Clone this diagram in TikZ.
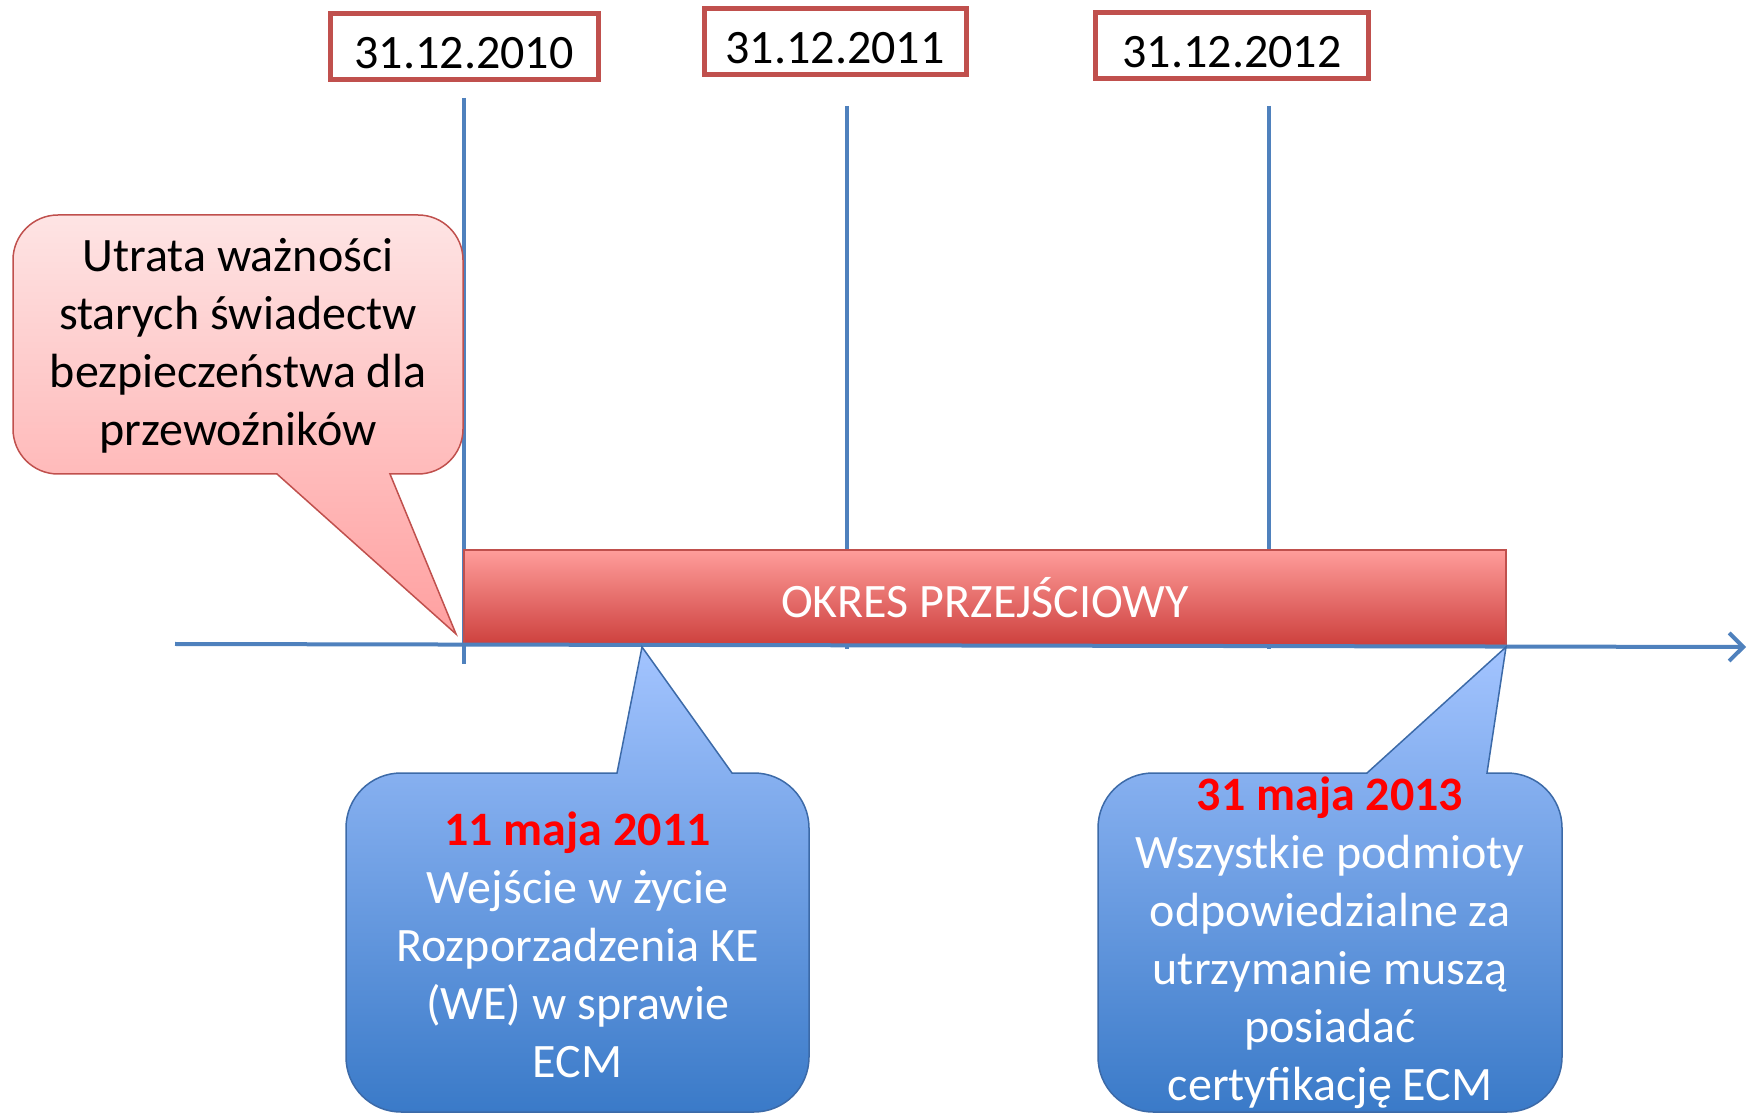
\documentclass[tikz,border=0pt]{standalone}
\usepackage{fontspec}
\setmainfont{Carlito}
\usetikzlibrary{arrows.meta}

\definecolor{lineblue}{HTML}{4F81BD}
\definecolor{datered}{HTML}{C0504D}
\definecolor{callblue}{HTML}{3C6AA8}
\newcommand{\reddate}[1]{\textcolor{red}{\bfseries #1}}

\begin{document}
\begin{tikzpicture}[x=0.5pt,y=0.5pt,
    tick/.style={draw=lineblue, line width=2pt},
    axis/.style={draw=lineblue, line width=2pt, -{Straight Barb[length=7pt,width=14pt]}},
    bar/.style={draw=datered, line width=0.6pt, top color={rgb,255:red,255;green,157;blue,155},
      bottom color={rgb,255:red,205;green,64;blue,61}, minimum width=521pt, minimum height=47.5pt,
      inner sep=0pt, text=white, font=\fontsize{24}{29}\selectfont},
    pinkcall/.style={draw=datered, line width=0.75pt, top color={rgb,255:red,254;green,228;blue,228},
      bottom color={rgb,255:red,255;green,160;blue,160}},
    bluecall/.style={draw=callblue, line width=0.75pt, top color={rgb,255:red,163;green,196;blue,255},
      bottom color={rgb,255:red,58;green,122;blue,200}},
    calltext/.style={align=center, inner sep=0pt, font=\fontsize{24}{29}\selectfont}]

        \useasboundingbox (0,0) rectangle (1749,1114);

        \begin{scope}[every node/.style={draw=datered, line width=2.5pt, fill=white, minimum height=33pt,
            inner sep=0pt, text height=22pt, text depth=0pt, font=\fontsize{24}{29}\selectfont}]
          \node[minimum width=134pt] (d2010)  at (464,1067)  {31.12.2010};
          \node[minimum width=131pt] (d2011)  at (835,1072)  {31.12.2011};
          \node[minimum width=136.5pt] (d2012)  at (1232,1068.5)  {31.12.2012};
        \end{scope}

        % ticks under the dates
        \coordinate (t1a) at (464,1016);
        \coordinate (t1b) at (464,450);
        \coordinate (t2a) at (847,1008);
        \coordinate (t2b) at (847,465);
        \coordinate (t3a) at (1269,1008);
        \coordinate (t3b) at (1269,465);
        \draw[tick] (t1a) -- (t1b);
        \draw[tick] (t2a) -- (t2b);
        \draw[tick] (t3a) -- (t3b);

        \node[bar] (okres) at (985,516.5) {OKRES PRZEJŚCIOWY};

        \coordinate (ax0) at (175,470);
        \coordinate (ax1) at (1746,467);
        \draw[axis] (ax0) -- (ax1);

        % callouts
        \path[pinkcall] (58,899) -- (418,899) arc[start angle=90,end angle=0,radius=22.5pt]
          -- (463,685) arc[start angle=0,end angle=-90,radius=22.5pt]
          -- (390,640) -- (456,480) -- (277,640) -- (58,640)
          arc[start angle=270,end angle=180,radius=22.5pt]
          -- (13,854) arc[start angle=180,end angle=90,radius=22.5pt] -- cycle;

        \path[bluecall] (346,286) -- (346,57) arc[start angle=180,end angle=270,radius=27.5pt]
          -- (754,2) arc[start angle=270,end angle=360,radius=27.5pt]
          -- (809,286) arc[start angle=0,end angle=90,radius=27.5pt]
          -- (732,341) -- (642,467) -- (617,341) -- (401,341)
          arc[start angle=90,end angle=180,radius=27.5pt] -- cycle;

        \path[bluecall] (1098,286) -- (1098,57) arc[start angle=180,end angle=270,radius=27.5pt]
          -- (1507,2) arc[start angle=270,end angle=360,radius=27.5pt]
          -- (1562,286) arc[start angle=0,end angle=90,radius=27.5pt]
          -- (1487,341) -- (1506,467) -- (1367,341) -- (1153,341)
          arc[start angle=90,end angle=180,radius=27.5pt] -- cycle;

        \node[calltext] (utrata) at (238,768) {Utrata ważności\\starych świadectw\\bezpieczeństwa dla\\przewoźników};
        \node[calltext, text=white] (wejscie) at (577.5,169)
          {\reddate{11 maja 2011}\\Wejście w życie\\Rozporzadzenia KE\\(WE) w sprawie\\ECM};
        \node[calltext, text=white] (podmioty) at (1330,171)
          {\reddate{31 maja 2013}\\Wszystkie podmioty\\odpowiedzialne za\\utrzymanie muszą\\posiadać\\certyfikację ECM};

      \end{tikzpicture}
\end{document}
